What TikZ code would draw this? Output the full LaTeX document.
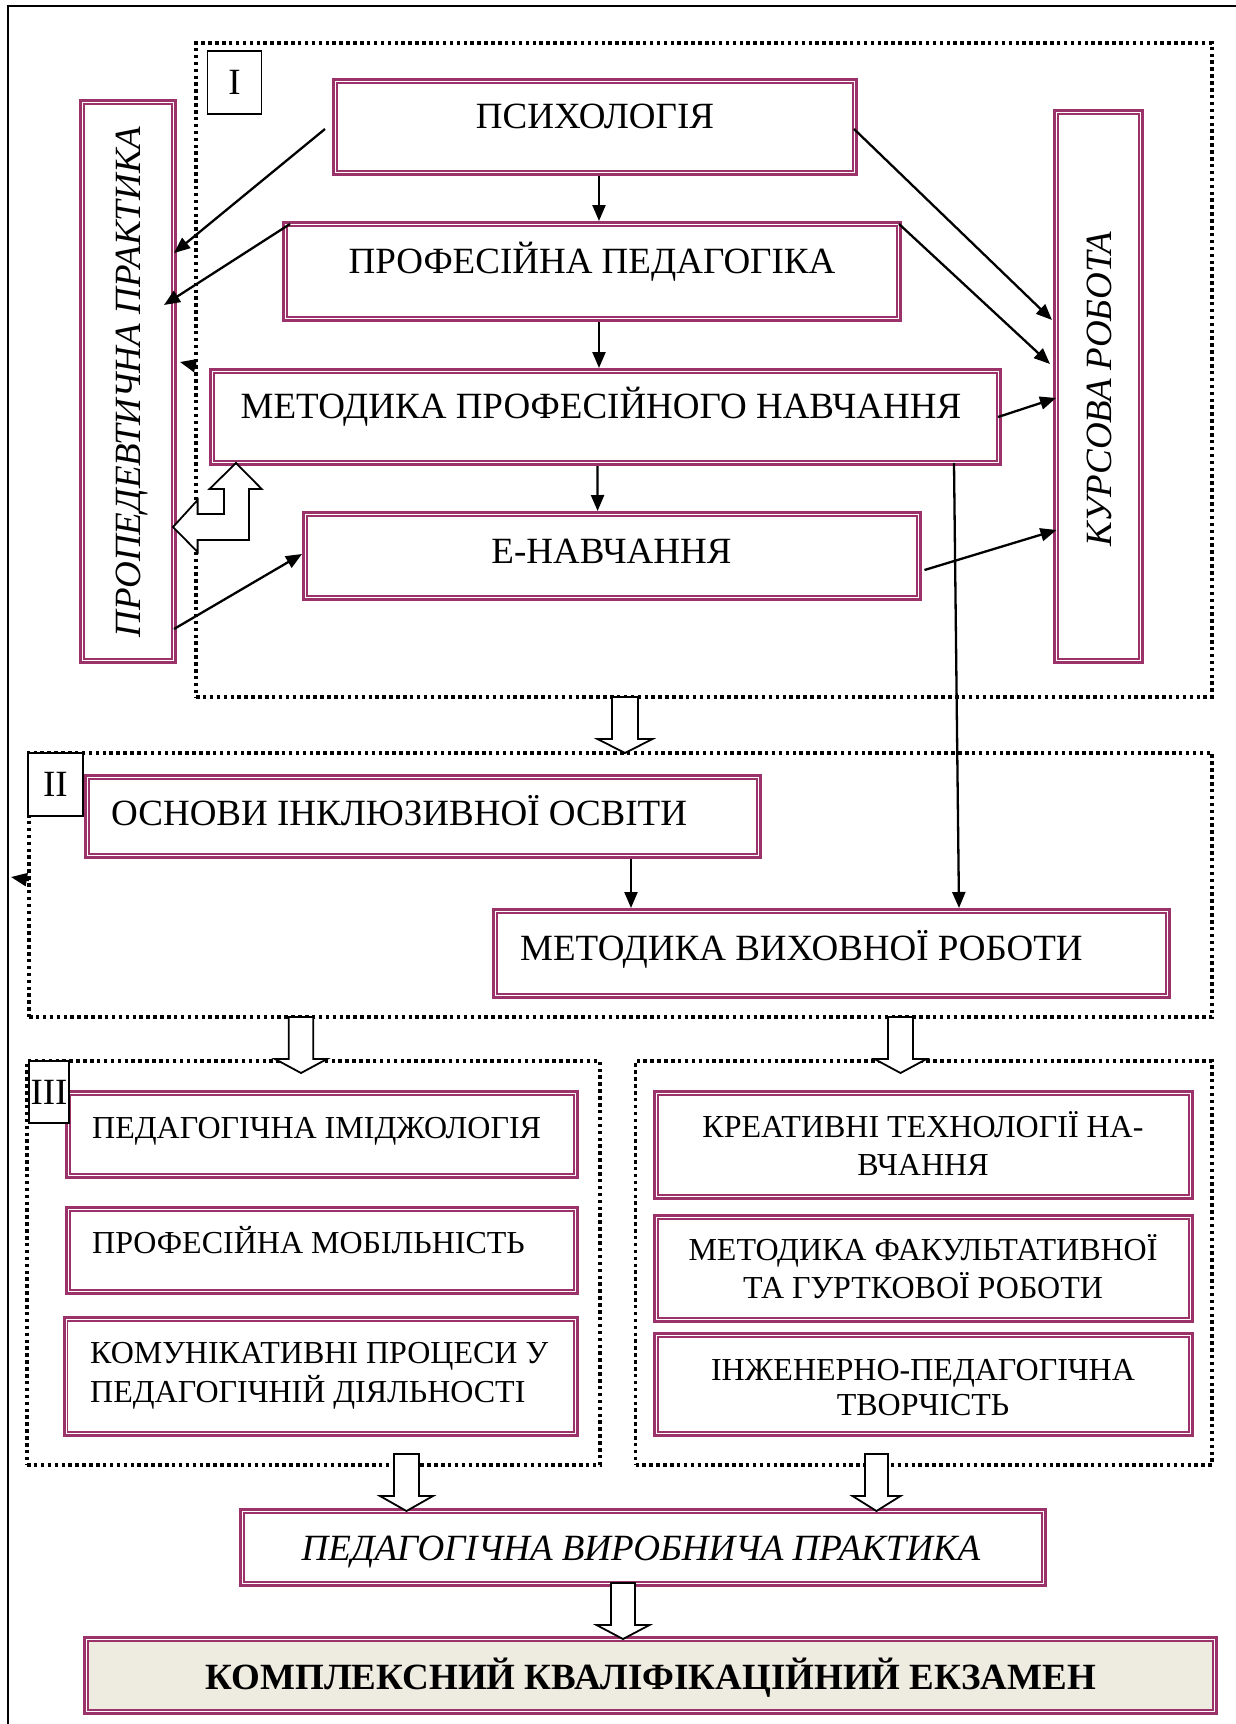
\documentclass[tikz,border=0pt]{standalone}
\usepackage{fontspec}
\setmainfont{Liberation Serif}
\usetikzlibrary{arrows.meta,calc}
\definecolor{plum}{RGB}{155,50,105}
\definecolor{beige}{RGB}{238,236,225}

% double-framed box: [fill]{name}{x1}{y1}{x2}{y2}
\newcommand{\dblbox}[6][white]{%
  \node[dbout, minimum width={#5-#3-3}, minimum height={#6-#4-3}] (#2) at ({(#3+#5)/2},{(#4+#6)/2}) {};
  \draw[dbin, fill=#1] ({#3+5},{#4+5}) rectangle ({#5-5},{#6-5});
}
% dotted group: {name}{x1}{y1}{x2}{y2}
\newcommand{\grpbox}[5]{%
  \node[grp, minimum width={#4-#2}, minimum height={#5-#3}] (#1) at ({(#2+#4)/2},{(#3+#5)/2}) {};
}
% hollow block arrow: {cx}{shaft half}{head half}{top}{head base}{tip}
\newcommand{\blkarrow}[6]{%
  \draw[blk] ({#1-#2},#4) -- ({#1+#2},#4) -- ({#1+#2},#5) -- ({#1+#3},#5) -- (#1,#6)
    -- ({#1-#3},#5) -- ({#1-#2},#5) -- cycle;
}

\begin{document}
\begin{tikzpicture}[x=1pt,y=-1pt,
  dbout/.style={draw=plum, line width=3pt, fill=white, inner sep=0pt},
  dbin/.style={draw=plum, line width=1.6pt},
  grp/.style={draw=black, line width=3.4pt, dash pattern=on 3.5pt off 3.4pt, inner sep=0pt, outer sep=0pt},
  lbl/.style={draw=black, line width=1.8pt, fill=white, inner sep=0pt, font=\fontsize{37}{40}\selectfont},
  ta/.style={inner sep=0pt, anchor=base, font=\fontsize{37}{40}\selectfont},
  tb/.style={inner sep=0pt, anchor=base, font=\fontsize{32}{36}\selectfont},
  ti/.style={inner sep=0pt, anchor=base, font=\fontsize{37}{40}\selectfont\itshape},
  tbf/.style={inner sep=0pt, anchor=base, font=\fontsize{37}{40}\selectfont\bfseries},
  arr/.style={-{Triangle[length=16pt,width=13pt]}, line width=2.3pt},
  blk/.style={draw=black, fill=white, line width=1.8pt, line join=miter}]
\useasboundingbox (0,0) rectangle (1235,1724);
\fill[white] (0,0) rectangle (1235,1724);
% outer frame
\draw[line width=2.4pt] (8,1730) -- (8,6) -- (1240,6);

% dotted groups
\grpbox{grpI}{196}{43}{1212}{697}
\grpbox{grpII}{29}{753}{1212}{1017}
\grpbox{grpIIIa}{27}{1061}{600}{1465}
\grpbox{grpIIIb}{635.5}{1061}{1212}{1465}

% boxes
\dblbox{psych}{332}{78}{858}{176}
\dblbox{prof}{282}{221}{902}{322}
\dblbox{metod}{209}{368}{1002}{466}
\dblbox{enav}{302}{511}{922}{601}
\dblbox{prop}{79}{99}{177}{664}
\dblbox{kurs}{1053}{109}{1144}{664}
\dblbox{osn}{84}{774}{762}{859}
\dblbox{mvr}{492}{908}{1171}{999}
\dblbox{imid}{65}{1090}{579}{1179}
\dblbox{mob}{65}{1206}{579}{1295}
\dblbox{kom}{62.5}{1316}{579}{1437}
\dblbox{kreat}{653}{1090}{1194}{1200}
\dblbox{fak}{653}{1214}{1194}{1323}
\dblbox{inzh}{653}{1332}{1194}{1437}
\dblbox{vyr}{239}{1508}{1047}{1587}
\dblbox[beige]{kompl}{83}{1636}{1218}{1715}

% section labels
\node[lbl, minimum width=54, minimum height=63] (lblI) at (234.5,82.4) {I};
\node[lbl, minimum width=55.3, minimum height=63] (lblII) at (55.35,784.5) {II};
\node[lbl, minimum width=40, minimum height=62] (lblIII) at (49,1092) {III};

% texts
\node[ta] (psychT) at (595,128) {ПСИХОЛОГІЯ};
\node[ta] (profT) at (592,273) {ПРОФЕСІЙНА ПЕДАГОГІКА};
\node[ta] (metodT) at (601,418) {МЕТОДИКА ПРОФЕСІЙНОГО НАВЧАННЯ};
\node[ta] (enavT) at (611.5,563) {Е-НАВЧАННЯ};
\node[ta, anchor=base west] (osnT) at (111,825) {ОСНОВИ ІНКЛЮЗИВНОЇ ОСВІТИ};
\node[ta, anchor=base west] (mvrT) at (520,960) {МЕТОДИКА ВИХОВНОЇ РОБОТИ};
\node[tb, anchor=base west] (imidT) at (92,1138) {ПЕДАГОГІЧНА ІМІДЖОЛОГІЯ};
\node[tb, anchor=base west] (mobT) at (92,1253) {ПРОФЕСІЙНА МОБІЛЬНІСТЬ};
\node[tb, anchor=base west] (komT1) at (90,1363) {КОМУНІКАТИВНІ ПРОЦЕСИ У};
\node[tb, anchor=base west] (komT2) at (90,1402) {ПЕДАГОГІЧНІЙ ДІЯЛЬНОСТІ};
\node[tb] (kreatT1) at (923,1137) {КРЕАТИВНІ ТЕХНОЛОГІЇ НА-};
\node[tb] (kreatT2) at (923,1175) {ВЧАННЯ};
\node[tb] (fakT1) at (923,1260) {МЕТОДИКА ФАКУЛЬТАТИВНОЇ};
\node[tb] (fakT2) at (923,1298) {ТА ГУРТКОВОЇ РОБОТИ};
\node[tb] (inzhT1) at (923,1380) {ІНЖЕНЕРНО-ПЕДАГОГІЧНА};
\node[tb] (inzhT2) at (923,1415) {ТВОРЧІСТЬ};
\node[ti] (vyrT) at (641,1560) {ПЕДАГОГІЧНА ВИРОБНИЧА ПРАКТИКА};
\node[tbf] (komplT) at (651,1689) {КОМПЛЕКСНИЙ КВАЛІФІКАЦІЙНИЙ ЕКЗАМЕН};
\node[ti, rotate=90] (propT) at (140,382) {ПРОПЕДЕВТИЧНА ПРАКТИКА};
\node[ti, rotate=90] (kursT) at (1111,389) {КУРСОВА РОБОТА};

% connectors
\coordinate (lnkII) at (11,877);
\draw[arr] ($(psych.south)+(4,0)$) -- ($(prof.north)+(7,0)$);
\draw[arr] ($(prof.south)+(7,0)$) -- ($(metod.north)+(-6.5,0)$);
\draw[arr] ($(metod.south)+(-8,0)$) -- ($(enav.north)+(-14.4,0)$);
\draw[arr] ($(psych.west)+(-7,2)$) -- ($(prop.east)+(-3,-128.5)$);
\draw[arr] ($(prof.north west)+(8,3)$) -- ($(prop.east)+(-13,-76.5)$);
\draw[arr] ($(grpI.west)+(1,-4)$) -- ($(prop.east)+(3,-19.5)$);
\draw[arr] ($(psych.east)+(-4,2)$) -- ($(kurs.west)+(-1,-66.5)$);
\draw[arr] ($(prof.north east)+(-3,3)$) -- ($(kurs.west)+(-3,-22.5)$);
\draw[arr] ($(metod.east)+(-4,0)$) -- ($(kurs.west)+(3,11.5)$);
\draw[arr] ($(prop.east)+(-3,247.5)$) -- ($(enav.west)+(0,-2)$);
\draw[arr] ($(enav.east)+(2.5,14)$) -- ($(kurs.west)+(3.5,143.5)$);
\draw[arr] ($(metod.south)+(348.5,-3)$) -- ($(mvr.north)+(127.5,0)$);
\draw[arr] ($(osn.south)+(208,0)$) -- ($(mvr.north)+(-200.5,0)$);
\draw[arr] ($(grpII.west)+(0,-5)$) -- (lnkII);

% double-headed hollow arrow between ПРОПЕДЕВТИЧНА ПРАКТИКА and МЕТОДИКА
\draw[blk] (173,527) -- (197.6,500) -- (197.6,514) -- (224,514) -- (224,489) -- (209.5,489)
  -- (236,463) -- (261.7,489) -- (249,489) -- (249,540) -- (197.6,540) -- (197.6,552) -- cycle;

% hollow block arrows between stages
\blkarrow{625}{13}{27.5}{697}{739}{753}
\blkarrow{301}{12.25}{26}{1017}{1059}{1073}
\blkarrow{900.5}{12.5}{26}{1017}{1059}{1073}
\blkarrow{406.5}{12.5}{26.5}{1454}{1496}{1511}
\blkarrow{876.5}{11.5}{24}{1454}{1496}{1511}
\blkarrow{623}{12}{26.5}{1583}{1625}{1639}
\end{tikzpicture}
\end{document}
